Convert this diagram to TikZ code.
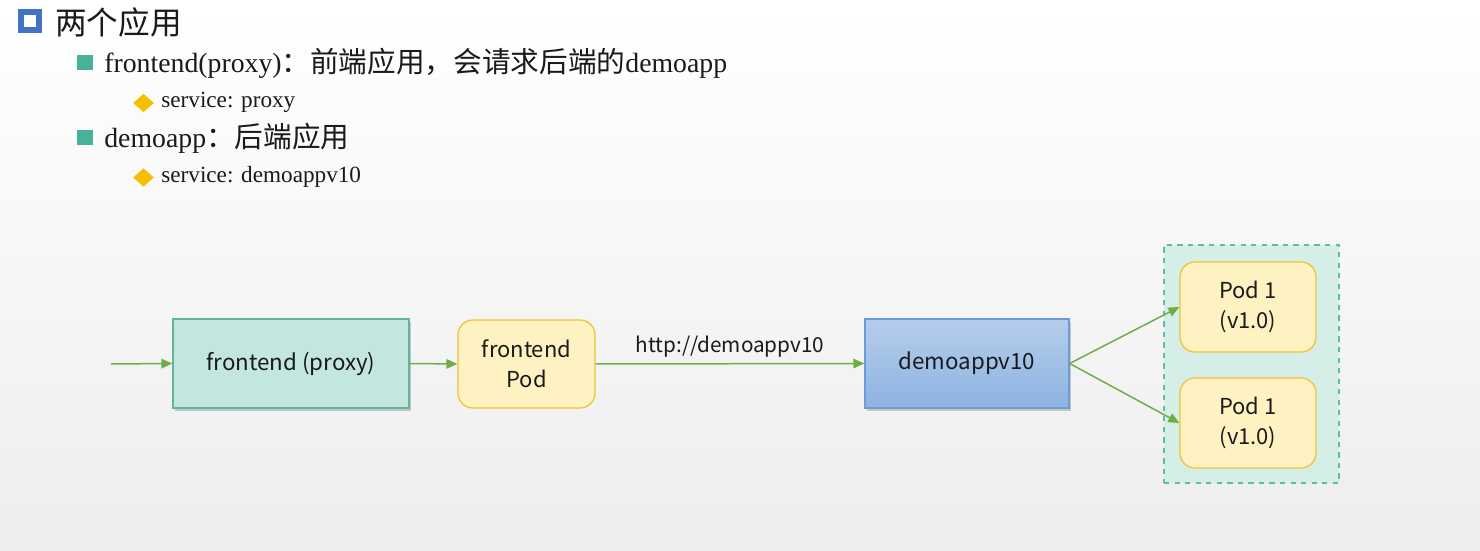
\documentclass[tikz,border=0pt]{standalone}
\usepackage{fontspec}
\setmainfont{Liberation Serif}
\newfontfamily\cjk{Noto Sans CJK SC}
\newfontfamily\boxfont{Noto Sans CJK SC}
\usetikzlibrary{arrows.meta,positioning,shadows,shapes.geometric}
\definecolor{ink}{HTML}{1A1A1A}
\definecolor{bulletblue}{HTML}{4472C4}
\definecolor{bulletteal}{HTML}{46B29A}
\definecolor{bulletgold}{HTML}{F5BF00}
\definecolor{flowgreen}{HTML}{70AD47}
\definecolor{proxyfill}{HTML}{C3E6DE}
\definecolor{proxyline}{HTML}{5EB59E}
\definecolor{podfill}{HTML}{FFF2C2}
\definecolor{podline}{HTML}{F2C12E}
\definecolor{demotop}{HTML}{B5CDEB}
\definecolor{demobot}{HTML}{8DB3E2}
\definecolor{demoline}{HTML}{6D9BD8}
\definecolor{groupfill}{HTML}{D5EFE8}
\definecolor{groupline}{HTML}{5CBF9E}
\newcommand{\zh}[1]{{\cjk\fontsize{16.3}{18}\selectfont #1}}

\begin{document}
\begin{tikzpicture}[
  x=0.2mm,y=-0.2mm,
  >={Triangle[length=2.2mm,width=1.9mm]},
  lvlone/.style={font=\cjk\fontsize{18}{21}\selectfont,text=ink,anchor=west,inner sep=0pt},
  lvltwo/.style={font=\fontsize{15.8}{18}\selectfont,text=ink,anchor=west,inner sep=0pt},
  lvlthree/.style={font=\fontsize{13.2}{15}\selectfont,text=ink,anchor=west,inner sep=0pt},
  sqbullet/.style={fill=bulletteal,minimum size=0.31cm,inner sep=0pt},
  dmbullet/.style={diamond,fill=bulletgold,minimum width=0.42cm,minimum height=0.37cm,inner sep=0pt},
  shadowed/.style={drop shadow={shadow xshift=1.2pt,shadow yshift=-1.5pt,fill=black!40,opacity=0.5}},
  svcbox/.style={draw,line width=0.7pt,minimum height=1.78cm,font=\boxfont\fontsize{12.7}{15}\selectfont,text=ink,align=center},
  podbox/.style={draw=podline,fill=podfill,line width=0.7pt,rounded corners=0.3cm,minimum width=2.72cm,minimum height=1.8cm,font=\boxfont\fontsize{12.5}{17}\selectfont,text=ink,align=center},
  flowarrow/.style={->,line width=0.85pt,draw=flowgreen,fill=flowgreen},
]

% ===================== BACKGROUND =====================
\useasboundingbox (0,0) rectangle (1480,551);
\shade[top color=white,bottom color=black!7] (0,0) rectangle (1480,551);

% ===================== BULLET TEXT =====================
\node[draw=bulletblue,fill=white,line width=3.6pt,minimum size=0.35cm,inner sep=0pt] (b0) at (30,21) {};
\node[lvlone] (t0) at (55,22) {两个应用};

\node[sqbullet] (b1) at (85,62.5) {};
\node[lvltwo] (t1) at (104,63) {frontend(proxy)\zh{：前端应用，会请求后端的}demoapp};
\node[dmbullet] (d1) at (143.5,103) {};
\node[lvlthree] (s1) at (161,102) {service: proxy};

\node[sqbullet] (b2) at (85,137.5) {};
\node[lvltwo] (t2) at (104,138) {demoapp\zh{：后端应用}};
\node[dmbullet] (d2) at (143.5,177.5) {};
\node[lvlthree] (s2) at (161,177) {service: demoappv10};

% ===================== DIAGRAM =====================
\node[draw=groupline,fill=groupfill,dashed,line width=0.6pt,minimum width=3.5cm,minimum height=4.76cm] (grp) at (1251.5,364) {};

\coordinate (entry) at (111,364);
\node[svcbox,shadowed,draw=proxyline,fill=proxyfill,minimum width=4.72cm] (proxy) at (291,363.5) {frontend (proxy)};
\node[podbox,minimum width=2.74cm,minimum height=1.76cm] (fpod) at (526.5,364) {frontend\\Pod};
\node[svcbox,shadowed,draw=demoline,top color=demotop,bottom color=demobot,minimum width=4.08cm] (demo) at (967,363.5) {demoappv10};
\node[podbox] (podA) at (1248,307) {Pod 1\\(v1.0)};
\node[podbox] (podB) at (1248,423) {Pod 1\\(v1.0)};

\draw[flowarrow] (entry) -- (proxy.west);
\draw[flowarrow] (proxy.east) -- (fpod.west);
\draw[flowarrow] (fpod.east) -- node[above=0pt,font=\boxfont\fontsize{11.8}{14}\selectfont,text=ink] (url) {http://demoappv10} (demo.west);
\draw[flowarrow] (demo.east) -- (podA.west);
\draw[flowarrow] (demo.east) -- (podB.west);

\end{tikzpicture}
\end{document}
